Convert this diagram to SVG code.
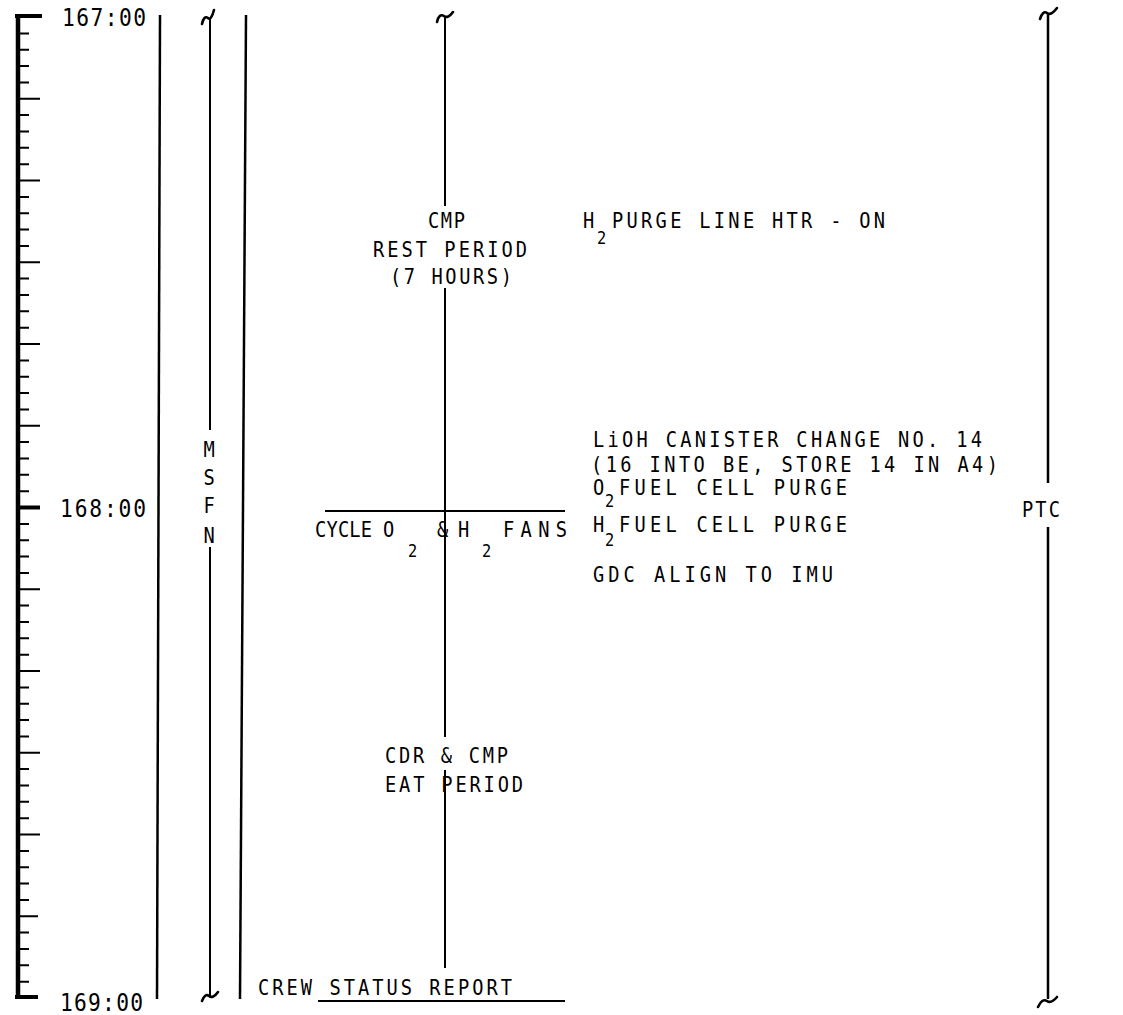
<svg xmlns="http://www.w3.org/2000/svg" width="1123" height="1015" viewBox="0 0 1123 1015">
<style>
  .bg { fill: #ffffff; }
  .ln { stroke: #000; fill: none; stroke-width: 2.5; stroke-linecap: butt; }
  .thin { stroke: #000; fill: none; stroke-width: 2; }
  .sq { stroke: #000; fill: none; stroke-width: 2.6; stroke-linecap: round; stroke-linejoin: round; }
  .t { font-family: "DejaVu Sans Mono", "Liberation Mono", monospace; font-size: 22px; fill: #000; }
  .sub { font-family: "DejaVu Sans Mono", "Liberation Mono", monospace; font-size: 18px; fill: #000; }
  .tm { font-family: "DejaVu Sans Mono", "Liberation Mono", monospace; font-size: 25px; fill: #000; }
  .mid { text-anchor: middle; }
</style>
<rect class="bg" x="0" y="0" width="1123" height="1015"/>

<g id="time-axis">
  <line x1="18" y1="15" x2="18" y2="999" stroke="#000" stroke-width="4.5"/>
  <line x1="15" y1="16" x2="42" y2="16" stroke="#000" stroke-width="4"/>
  <line x1="15" y1="997" x2="38" y2="997" stroke="#000" stroke-width="4"/>
  <path class="thin" d="M18,33.4H29 M18,49.7H29 M18,66.1H29 M18,82.4H29 M18,115.1H29 M18,131.5H29 M18,147.8H29 M18,164.2H29 M18,196.9H29 M18,213.2H29 M18,229.6H29 M18,245.9H29 M18,278.6H29 M18,295H29 M18,311.3H29 M18,327.7H29 M18,360.4H29 M18,376.7H29 M18,393.1H29 M18,409.4H29 M18,442.1H29 M18,458.5H29 M18,474.8H29 M18,491.2H29 M18,523.9H29 M18,540.2H29 M18,556.6H29 M18,572.9H29 M18,605.6H29 M18,622H29 M18,638.3H29 M18,654.7H29 M18,687.4H29 M18,703.7H29 M18,720.1H29 M18,736.4H29 M18,769.1H29 M18,785.5H29 M18,801.8H29 M18,818.2H29 M18,850.9H29 M18,867.2H29 M18,883.6H29 M18,899.9H29 M18,932.6H29 M18,949H29 M18,965.3H29 M18,981.7H29"/>
  <path class="thin" d="M18,98.8H40 M18,180.5H40 M18,262.3H40 M18,344H40 M18,425.8H40 M18,589.3H40 M18,671H40 M18,752.8H40 M18,834.5H40 M18,916.3H38"/>
  <line x1="18" y1="507.5" x2="40" y2="507.5" stroke="#000" stroke-width="4"/>
  <text class="tm" transform="translate(62,26) scale(0.85,1)" textLength="98.8" lengthAdjust="spacing">167:00</text>
  <text class="tm" transform="translate(60,517) scale(0.85,1)" textLength="101.2" lengthAdjust="spacing">168:00</text>
  <text class="tm" transform="translate(60,1011) scale(0.85,1)" textLength="97.6" lengthAdjust="spacing">169:00</text>
</g>

<g id="connectors">
  <line class="ln" x1="160" y1="15" x2="157" y2="999"/>
  <line class="ln" x1="246" y1="15" x2="240" y2="999"/>
  <path class="sq" d="M202,24 Q204,15 208,18 Q211,21 214,10"/>
  <line class="thin" x1="210" y1="19" x2="210" y2="430"/>
  <line class="thin" x1="210" y1="547" x2="210" y2="996"/>
  <path class="sq" d="M202,1001 Q205,993 209,996 Q213,999 218,992"/>
  <path class="sq" d="M437,22 Q439,13 444,16 Q448,19 453,12"/>
  <line class="thin" x1="445" y1="17" x2="445" y2="206"/>
  <line class="thin" x1="445" y1="288" x2="445" y2="737"/>
  <line class="thin" x1="445" y1="770" x2="445" y2="968"/>
  <line class="thin" x1="325" y1="511" x2="565" y2="511"/>
  <path class="sq" d="M1040,19 Q1043,10 1047,13 Q1051,16 1057,8"/>
  <line class="ln" x1="1048" y1="14" x2="1048" y2="483"/>
  <line class="ln" x1="1048" y1="527" x2="1048" y2="999"/>
  <path class="sq" d="M1038,1007 Q1042,998 1047,1001 Q1051,1004 1057,997"/>
  <line class="thin" x1="318" y1="1001" x2="565" y2="1001"/>
</g>

<g id="msfn">
  <text class="t mid" transform="translate(209,457) scale(0.85,1)">M</text>
  <text class="t mid" transform="translate(209,485) scale(0.85,1)">S</text>
  <text class="t mid" transform="translate(209,513) scale(0.85,1)">F</text>
  <text class="t mid" transform="translate(209,543) scale(0.85,1)">N</text>
</g>

<g id="ptc">
  <text class="t" transform="translate(1022,517) scale(0.85,1)" textLength="44.7" lengthAdjust="spacing">PTC</text>
</g>

<g id="cmp-rest">
  <text class="t" transform="translate(428,228) scale(0.85,1)" textLength="43.5" lengthAdjust="spacing">CMP</text>
  <text class="t" transform="translate(373,257) scale(0.85,1)" textLength="181.2" lengthAdjust="spacing">REST PERIOD</text>
  <text class="t" transform="translate(390,284) scale(0.85,1)" textLength="143.5" lengthAdjust="spacing">(7 HOURS)</text>
</g>

<g id="h2-purge-htr">
  <text class="t" transform="translate(583,228) scale(0.85,1)">H</text>
  <text class="sub" transform="translate(597,244) scale(0.85,1)">2</text>
  <text class="t" transform="translate(612,228) scale(0.85,1)" textLength="321.2" lengthAdjust="spacing">PURGE LINE HTR - ON</text>
</g>

<g id="lioh">
  <text class="t" transform="translate(593,447) scale(0.85,1)" textLength="457.6" lengthAdjust="spacing">LiOH CANISTER CHANGE NO. 14</text>
  <text class="t" transform="translate(591,472) scale(0.85,1)" textLength="478.8" lengthAdjust="spacing">(16 INTO BE, STORE 14 IN A4)</text>
</g>

<g id="o2-purge">
  <text class="t" transform="translate(593,495) scale(0.85,1)">O</text>
  <text class="sub" transform="translate(605,507) scale(0.85,1)">2</text>
  <text class="t" transform="translate(619,495) scale(0.85,1)" textLength="268.2" lengthAdjust="spacing">FUEL CELL PURGE</text>
</g>

<g id="h2-purge">
  <text class="t" transform="translate(593,532) scale(0.85,1)">H</text>
  <text class="sub" transform="translate(605,546) scale(0.85,1)">2</text>
  <text class="t" transform="translate(619,532) scale(0.85,1)" textLength="268.2" lengthAdjust="spacing">FUEL CELL PURGE</text>
</g>

<g id="gdc">
  <text class="t" transform="translate(593,582) scale(0.85,1)" textLength="282.4" lengthAdjust="spacing">GDC ALIGN TO IMU</text>
</g>

<g id="cycle-fans">
  <text class="t" transform="translate(315,537) scale(0.85,1)" textLength="67.1" lengthAdjust="spacing">CYCLE</text>
  <text class="t" transform="translate(383,537) scale(0.85,1)">O</text>
  <text class="sub" transform="translate(408,557) scale(0.85,1)">2</text>
  <text class="t" transform="translate(437,537) scale(0.85,1)">&amp;</text>
  <text class="t" transform="translate(458,537) scale(0.85,1)">H</text>
  <text class="sub" transform="translate(482,557) scale(0.85,1)">2</text>
  <text class="t" transform="translate(503,537) scale(0.85,1)" textLength="75.3" lengthAdjust="spacing">FANS</text>
</g>

<g id="cdr-eat">
  <text class="t" transform="translate(385,763) scale(0.85,1)" textLength="144.7" lengthAdjust="spacing">CDR &amp; CMP</text>
  <text class="t" transform="translate(385,792) scale(0.85,1)" textLength="162.4" lengthAdjust="spacing">EAT PERIOD</text>
</g>

<g id="crew-status">
  <text class="t" transform="translate(258,995) scale(0.85,1)" textLength="298.8" lengthAdjust="spacing">CREW STATUS REPORT</text>
</g>
</svg>
